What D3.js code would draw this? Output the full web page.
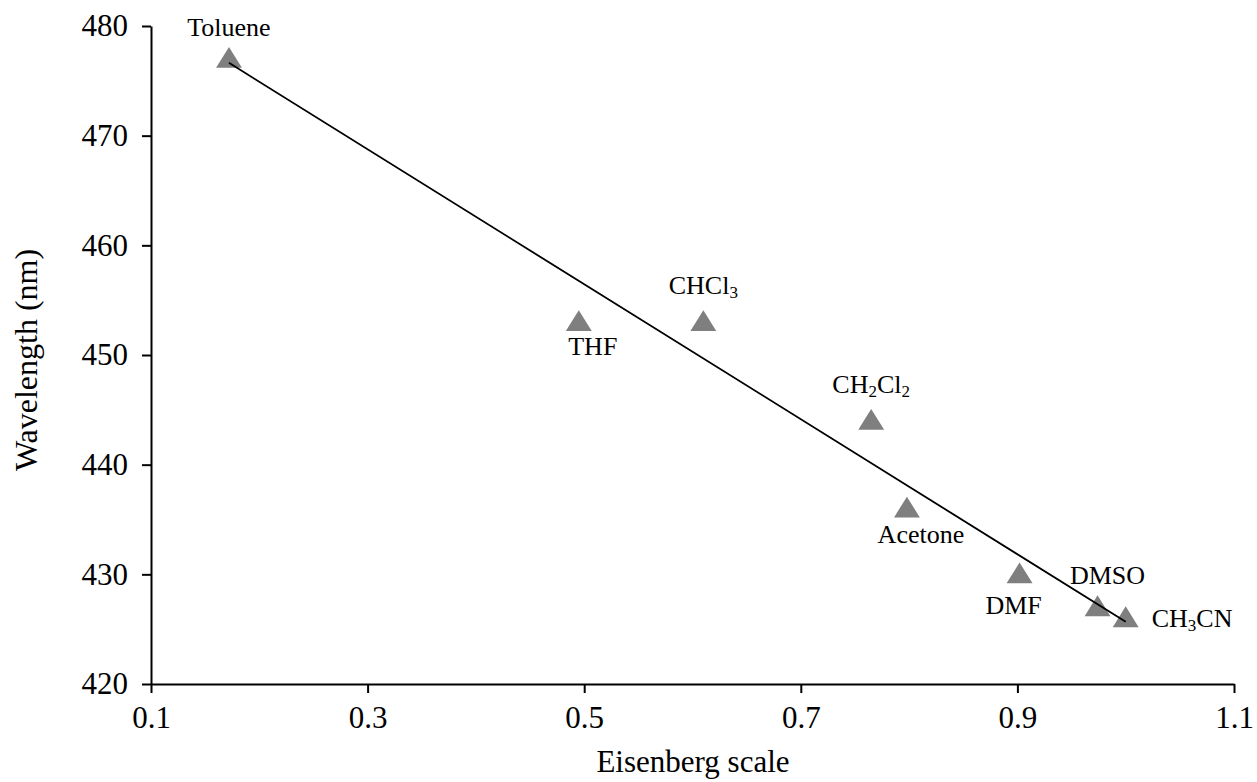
<!DOCTYPE html>
<html><head><meta charset="utf-8">
<script src="https://cdnjs.cloudflare.com/ajax/libs/d3/7.8.5/d3.min.js"></script>
<style>body{margin:0;background:#fff;} text{font-family:"Liberation Serif","Times New Roman",serif;}</style>
</head><body>
<svg id="c" width="1257" height="782"></svg>
<script>
const solvents = ["Toluene","THF","CHCl_3","CH_2Cl_2","Acetone","DMF","DMSO","CH_3CN"];
const eisenberg = [0.172,0.495,0.610,0.765,0.798,0.902,0.974,1.000];
const wavelength = [477,453,453,444,436,430,427,426];
const xTicks = [0.1,0.3,0.5,0.7,0.9,1.1];
const yTicks = [420,430,440,450,460,470,480];
// label placement offsets (pixels) relative to the point
const labelDx = [0,14,0,0,14,-6,10,26];
const labelDy = [-29,27,-34,-34,28,34,-29,3];
const labelAnchor = ["middle","middle","middle","middle","middle","middle","middle","start"];

const svg = d3.select("#c");
const x = d3.scaleLinear().domain([0.1,1.1]).range([151,1234]);
const y = d3.scaleLinear().domain([420,480]).range([684,26]);

// axes
const xAxis = svg.append("g").attr("transform","translate(0,684)")
  .call(d3.axisBottom(x).tickValues(xTicks).tickSize(9).tickSizeOuter(0).tickPadding(13).tickFormat(d3.format(".1f")));
const yAxis = svg.append("g").attr("transform","translate(151,0)")
  .call(d3.axisLeft(y).tickValues(yTicks).tickSize(9).tickSizeOuter(0).tickPadding(14).tickFormat(d3.format("d")));
[xAxis,yAxis].forEach(a=>{
  a.select(".domain").attr("stroke","#000").attr("stroke-width",2);
  a.selectAll(".tick line").attr("stroke","#000").attr("stroke-width",2);
  a.selectAll(".tick text").attr("fill","#000").style("font-size","31px").style("font-family","Liberation Serif");
});
xAxis.selectAll(".tick text").attr("dy","0.71em");

// trendline (least squares)
const n = eisenberg.length;
const mx = d3.mean(eisenberg), my = d3.mean(wavelength);
let sxy=0,sxx=0;
for(let i=0;i<n;i++){sxy+=(eisenberg[i]-mx)*(wavelength[i]-my);sxx+=(eisenberg[i]-mx)**2;}
const slope = sxy/sxx, icpt = my - slope*mx;
const x0 = d3.min(eisenberg), x1 = d3.max(eisenberg);

// markers
const tri = d3.symbol().type(d3.symbolTriangle).size(290);
svg.append("g").selectAll("path").data(d3.range(n)).join("path")
  .attr("d",tri)
  .attr("transform",i=>`translate(${x(eisenberg[i])},${y(wavelength[i])+2}) scale(1.0,0.93)`)
  .attr("fill","#7f7f7f");

svg.append("line").attr("x1",x(x0)).attr("y1",y(icpt+slope*x0))
  .attr("x2",x(x1)).attr("y2",y(icpt+slope*x1))
  .attr("stroke","#000").attr("stroke-width",1.8);

// labels
const lab = svg.append("g");
solvents.forEach((s,i)=>{
  const t = lab.append("text")
    .attr("x",x(eisenberg[i])+labelDx[i]).attr("y",y(wavelength[i])+labelDy[i])
    .attr("text-anchor",labelAnchor[i]).attr("dominant-baseline","middle")
    .style("font-size","26px").attr("fill","#000");
  const parts = s.split(/_(\d)/);
  parts.forEach((p,k)=>{
    if(p==="") return;
    if(k%2===1){
      t.append("tspan").text(p).attr("dy","0.35em").style("font-size","17px");
    } else {
      t.append("tspan").text(p).attr("dy", k>0 ? "-0.23em" : "0");
    }
  });
});

// axis titles
svg.append("text").attr("x",693).attr("y",765).attr("text-anchor","middle").attr("dominant-baseline","middle")
  .style("font-size","31px").text("Eisenberg scale");
svg.append("text").attr("transform","translate(30,360) rotate(-90)").attr("text-anchor","middle").attr("dominant-baseline","middle")
  .style("font-size","32px").text("Wavelength (nm)");
</script>
</body></html>
